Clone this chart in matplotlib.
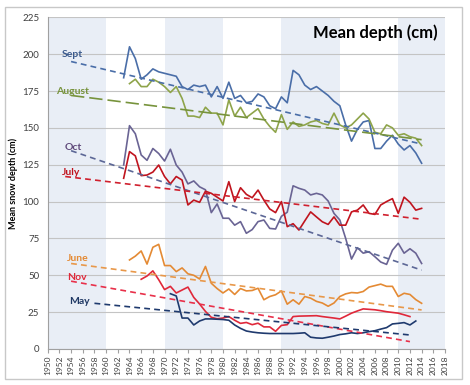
import numpy as np
import matplotlib
matplotlib.use("Agg")
from matplotlib import pyplot as plt
from matplotlib.patches import Rectangle

plt.rcParams['font.family'] = ['Lato', 'DejaVu Sans']

# --- data ---
sept_years = list(range(1963, 2015))
sept = [184, 205, 197, 183, 186, 190, 188, 187, 186, 185,
        178, 176, 179, 178, 179, 171, 178, 170, 181, 170,
        172, 167, 168, 173, 171, 165, 163, 171, 167, 189,
        186, 179, 176, 178, 175, 172, 168, 165, 152, 141,
        149, 154, 155, 136, 136, 141, 145, 139, 135, 138,
        133, 126]

aug_years = list(range(1964, 2015))
aug = [180, 183, 178, 178, 183, 181, 178, 174, 178, 170,
       158, 158, 157, 164, 160, 160, 152, 169, 158, 164,
       157, 160, 163, 156, 151, 147, 159, 149, 154, 151,
       152, 154, 155, 153, 152, 160, 152, 150, 152, 156,
       160, 156, 147, 146, 152, 150, 145, 146, 144, 143,
       138]

oct_years = list(range(1963, 2015))
oct_ = [124.8, 151.5, 146, 131.6, 128, 136, 132.6, 127.5, 135.5, 124.8,
        120, 112, 114, 110, 108, 92.5, 98.4, 88.7, 88.7, 84,
        86.4, 78.5, 81, 86.4, 87.5, 81.8, 81.4, 90, 92.8, 110.7,
        109, 107.8, 104.5, 105.6, 104.5, 100.4, 92, 87.5, 75, 61,
        68.7, 65, 66, 62.6, 59, 57.4, 67, 71.7, 65, 68,
        65, 58]

july_years = list(range(1963, 2015))
july = [115.8, 133.9, 131, 117.6, 118, 120, 124.8, 117, 112, 117,
        114.6, 97.7, 101, 99.5, 107, 105.6, 103, 100.4, 113.5, 100,
        109.4, 104.9, 102.6, 107.8, 101, 95, 92.5, 100, 83, 85,
        80.7, 86.9, 93, 89.6, 86.3, 84.5, 89.6, 84, 84, 93,
        94.2, 97.7, 92, 91.3, 97.7, 100, 102, 92, 103, 99.5,
        94.2, 95.4]

june_years = list(range(1964, 2015))
june = [60.4, 63, 66.5, 57.6, 69, 71, 56.6, 56.6, 52.5, 55,
        51, 50, 47.5, 56, 44.6, 41, 38, 40.7, 37, 41,
        39.4, 39.7, 41.2, 33.4, 35.6, 36.8, 39.4, 30.4, 33.4, 30.4,
        35.6, 34.5, 32.3, 31.2, 29, 31.2, 35.6, 37.4, 38.3, 38,
        39, 42, 43, 44, 42.5, 42.5, 35.6, 37.8, 37, 33.5,
        31]

nov_years = list(range(1966, 2013))
nov = [47.3, 49.5, 53, 47, 40.3, 42.5, 38, 40, 42, 35,
       30.5, 25.5, 21.5, 20.5, 21, 22, 19.5, 17.4, 18, 16.5,
       17.5, 15, 15, 12, 16, 16.5, 22, 22.3, 22.4, 22.5,
       22.6, 22, 21.5, 21, 20.4, 22.3, 24.3, 25.8, 27.2, 26.9,
       26.6, 26, 25.3, 24.8, 24.3, 23.2, 22]

may_years = list(range(1971, 2014))
may = [37.5, 36, 21, 21, 16.3, 19, 20.4, 20.4, 20.2, 20,
       19.5, 16.3, 14, 12.2, 11.5, 11, 10.7, 10.5, 10.5, 10.5,
       10.5, 10.5, 10.7, 11, 8, 7.5, 7.3, 8, 8.8, 9.8,
       10.3, 11, 10.5, 11, 11.8, 12.4, 13.5, 14.5, 17, 17.4,
       17.9, 16.3, 19]

# trend lines (start year, end year) and (start value, end value)
sept_trend_x, sept_trend = [1954, 2014], [195, 139]
aug_trend_x, aug_trend = [1954, 2014], [172, 142]
oct_trend_x, oct_trend = [1954, 2014], [134.5, 53.5]
july_trend_x, july_trend = [1953, 2014], [117, 88]
june_trend_x, june_trend = [1954, 2014], [58, 26.5]
nov_trend_x, nov_trend = [1954, 2012], [46, 5]
may_trend_x, may_trend = [1958, 2012], [31, 9.5]

shaded = [(1950, 1960), (1970, 1980), (1990, 2000), (2010, 2018)]

W, H = 470, 385
fig = plt.figure(figsize=(W / 100, H / 100), dpi=100)
ax = fig.add_axes([47.7 / W, 1 - 349 / H, (445 - 47.7) / W, (349 - 17.3) / H])

# chart border
fig.patches.append(Rectangle((5 / W, 6 / H), 457 / W, 372 / H, transform=fig.transFigure,
                             fill=False, edgecolor='#c8c8c8', linewidth=1.0))

for a, b in shaded:
    ax.axvspan(a, b, color='#e9eef6', zorder=0, linewidth=0)

ax.set_xlim(1950, 2018)
ax.set_ylim(0, 225)
ax.set_yticks(np.arange(0, 226, 25))
ax.set_xticks(np.arange(1950, 2019, 2))
ax.tick_params(axis='x', labelrotation=90, labelsize=6, length=3, color='#a0a0a0', pad=1.5)
ax.tick_params(axis='y', labelsize=7, length=0, pad=6, labelcolor='#404040')
ax.tick_params(axis='x', labelcolor='#404040')
ax.grid(axis='y', color='#c4c4c4', linewidth=0.8, zorder=1)
ax.set_axisbelow(True)
for s in ['top', 'right']:
    ax.spines[s].set_visible(False)
for s in ['left', 'bottom']:
    ax.spines[s].set_color('#a0a0a0')
    ax.spines[s].set_linewidth(0.8)

series = [
    (sept_years, sept, '#4a6ea8'),
    (aug_years, aug, '#8ea44a'),
    (oct_years, oct_, '#6a6494'),
    (july_years, july, '#c0141e'),
    (june_years, june, '#e48a34'),
    (nov_years, nov, '#e0283a'),
    (may_years, may, '#1f3a6e'),
]
for xs, ys, c in series:
    ax.plot(xs, ys, color=c, linewidth=1.2, zorder=3)

trends = [
    (sept_trend_x, sept_trend, '#4a6ea8', (3.5, 2.5)),
    (aug_trend_x, aug_trend, '#77933c', (8, 3)),
    (oct_trend_x, oct_trend, '#5c6796', (3.5, 2.5)),
    (july_trend_x, july_trend, '#d0202e', (3.5, 2.5)),
    (june_trend_x, june_trend, '#e8984a', (3.5, 2.5)),
    (nov_trend_x, nov_trend, '#e8304a', (3.5, 2.5)),
    (may_trend_x, may_trend, '#1f3a6e', (3.5, 2.5)),
]
for xs, ys, c, d in trends:
    ax.plot(xs, ys, color=c, linewidth=1.2, dashes=d, zorder=4)

labels = [
    ('Sept', 1954.2, 199.5, '#3b5a8c'),
    ('August', 1954.2, 175, '#77933c'),
    ('Oct', 1954.3, 137, '#604a7b'),
    ('July', 1954.0, 120, '#c0141e'),
    ('June', 1955.2, 61.5, '#e48a34'),
    ('Nov', 1955.0, 48.4, '#e0283a'),
    ('May', 1955.5, 32, '#1f3864'),
]
for t, x, y, c in labels:
    ax.text(x, y, t, color=c, fontsize=7.5, fontweight='bold', ha='center', va='center',
            zorder=5, clip_on=False)

ax.text(2016.7, 214.5, 'Mean depth (cm)', fontsize=12, fontweight='bold',
        ha='right', va='center', color='black', zorder=5)
ax.set_ylabel('Mean snow depth (cm)', fontsize=6.5, fontweight='bold', labelpad=3)

fig.savefig('out.png', dpi=100)
